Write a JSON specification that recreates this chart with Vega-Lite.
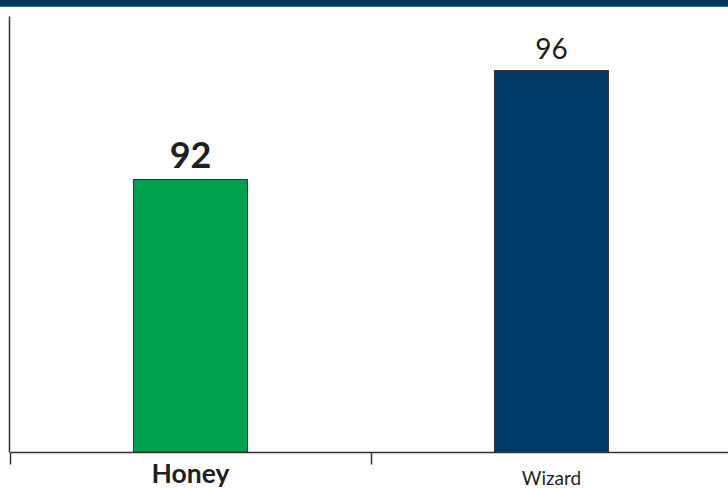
{
  "$schema": "https://vega.github.io/schema/vega-lite/v6.json",
  "autosize": {"type": "none"},
  "width": 728,
  "height": 436,
  "padding": {"left": 0, "top": 16, "right": 0, "bottom": 36},
  "background": "white",
  "config": {"view": {"stroke": null}, "font": "Lato"},
  "data": {"values": [
    {"cat": "Honey", "value": 92},
    {"cat": "Wizard", "value": 96}
  ]},
  "encoding": {
    "x": {
      "field": "cat", "type": "nominal", "sort": null,
      "scale": {"range": [10, 732], "paddingInner": 0, "paddingOuter": 0},
      "axis": {
        "title": null, "labelAngle": 0, "bandPosition": 0,
        "domainColor": "#333333", "domainWidth": 1.5,
        "tickColor": "#333333", "tickSize": 12, "tickWidth": 1.5,
        "labelColor": "#231f20", "labelBaseline": "bottom", "labelPadding": 24.5,
        "labelFontSize": {"condition": {"test": "datum.value == 'Honey'", "value": 26.5}, "value": 19},
        "labelFontWeight": {"condition": {"test": "datum.value == 'Honey'", "value": "bold"}, "value": "normal"}
      }
    }
  },
  "layer": [
    {
      "mark": {"type": "rule", "color": "#00355F", "strokeWidth": 6.5},
      "encoding": {"x": null, "y": {"datum": 98.47, "type": "quantitative"}}
    },
    {
      "mark": {"type": "bar", "width": {"band": 0.316}, "stroke": "#333333", "strokeWidth": 1},
      "encoding": {
        "y": {
          "field": "value", "type": "quantitative",
          "scale": {"domain": [82, 98], "nice": false, "zero": false},
          "axis": {"title": null, "labels": false, "ticks": false, "grid": false, "domainColor": "#333333", "domainWidth": 1.5, "offset": -9}
        },
        "y2": {"datum": 82},
        "color": {
          "field": "cat", "type": "nominal", "legend": null,
          "scale": {"domain": ["Honey", "Wizard"], "range": ["#00A04F", "#003A68"]}
        }
      }
    },
    {
      "transform": [{"filter": "datum.cat == 'Honey'"}],
      "mark": {"type": "text", "baseline": "alphabetic", "dy": -11.5, "fontSize": 36, "fontWeight": "bold", "color": "#231f20"},
      "encoding": {"y": {"field": "value", "type": "quantitative"}, "text": {"field": "value"}}
    },
    {
      "transform": [{"filter": "datum.cat == 'Wizard'"}],
      "mark": {"type": "text", "baseline": "alphabetic", "dy": -11.5, "fontSize": 28, "fontWeight": "normal", "color": "#231f20"},
      "encoding": {"y": {"field": "value", "type": "quantitative"}, "text": {"field": "value"}}
    }
  ]
}
